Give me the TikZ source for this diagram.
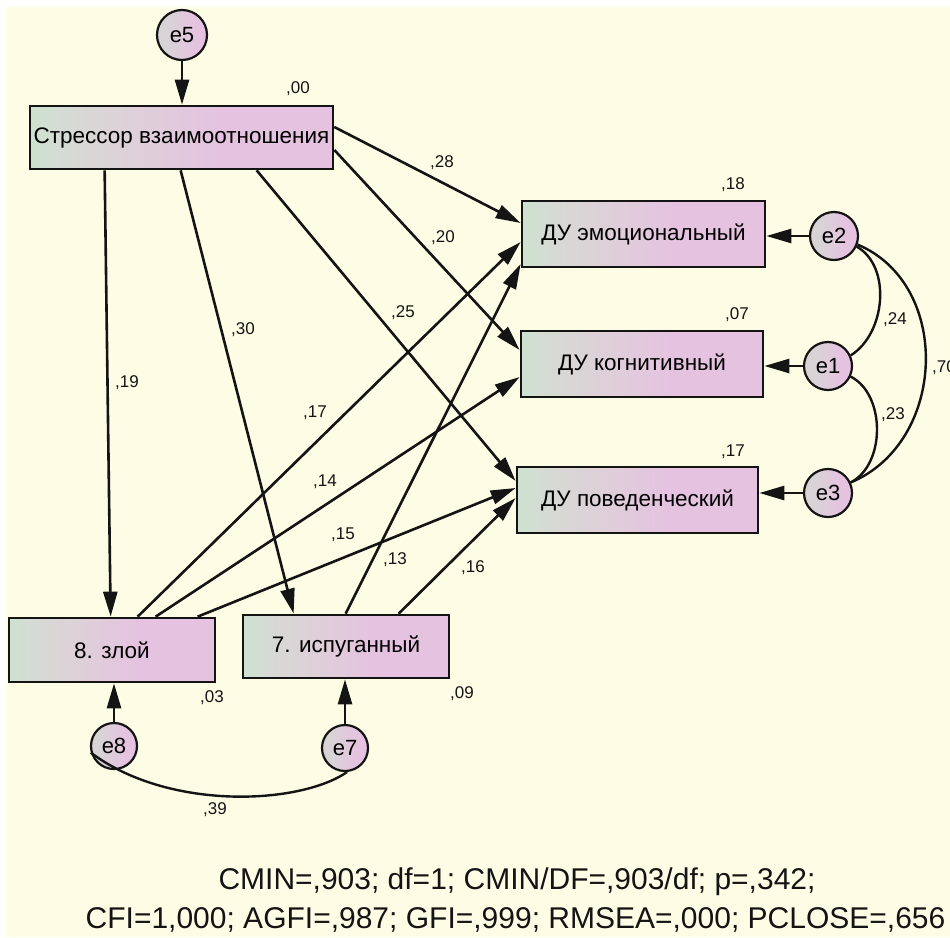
\documentclass[tikz,border=0pt]{standalone}
\usepackage{fontspec}
\setmainfont{Liberation Sans}
\usetikzlibrary{arrows.meta,calc}
\definecolor{bg}{RGB}{253,253,230}
\definecolor{bxL}{RGB}{205,226,208}
\definecolor{bxLM}{RGB}{214,218,212}
\definecolor{bxM}{RGB}{222,208,216}
\definecolor{bxR}{RGB}{229,195,224}
\definecolor{ciL}{RGB}{216,212,214}
\definecolor{ciR}{RGB}{229,195,224}
\definecolor{ink}{RGB}{20,20,20}
\pgfdeclarehorizontalshading{boxshade}{100bp}{color(0bp)=(bxL); color(25bp)=(bxL); color(31bp)=(bxLM); color(42bp)=(bxM); color(56bp)=(bxR); color(100bp)=(bxR)}
\pgfdeclarehorizontalshading{circshade}{100bp}{color(0bp)=(ciL); color(35bp)=(ciL); color(62bp)=(ciR); color(100bp)=(ciR)}
\tikzset{
  obsbox/.style={draw=ink, line width=2.7pt, shading=boxshade, inner sep=0pt,
    font=\fontsize{22.5}{25}\selectfont},
  errc/.style={circle, draw=ink, line width=2.2pt, shading=circshade, minimum size=48pt,
    inner sep=0pt, font=\fontsize{22}{25}\selectfont},
  arr/.style={line width=2.6pt, draw=ink, -{Triangle[length=25pt,width=14pt]}},
  cov/.style={line width=2.4pt, draw=ink},
  coef/.style={font=\fontsize{17}{19}\selectfont, inner sep=0pt, text=ink},
  fitstat/.style={font=\fontsize{30}{34}\selectfont, inner sep=0pt, anchor=base, text=ink}
}
\begin{document}
\begin{tikzpicture}[x=1pt,y=-1pt]
\useasboundingbox (0,0) rectangle (950,937);
\fill[white] (0,0) rectangle (950,937);
\fill[bg] (6,7) rectangle (950,937);

% observed variables
\node[obsbox, minimum width=303pt, minimum height=63pt] (S) at (181.5,137.5) {Стрессор взаимоотношения};
\node[obsbox, minimum width=243pt, minimum height=66pt] (E) at (643.5,234) {ДУ эмоциональный};
\node[obsbox, minimum width=242pt, minimum height=66pt] (K) at (642,364) {ДУ когнитивный};
\node[obsbox, minimum width=241pt, minimum height=66pt] (P) at (637.5,500) {ДУ поведенческий};
\node[obsbox, minimum width=206pt, minimum height=64pt] (Z) at (112,650) {8. злой};
\node[obsbox, minimum width=206pt, minimum height=63pt] (I) at (346,646.5) {7. испуганный};

% error terms
\node[errc, minimum size=50pt] (e5) at (182,35) {e5};
\node[errc] (e2) at (834,236) {e2};
\node[errc] (e1) at (828,366) {e1};
\node[errc] (e3) at (828,493) {e3};
\node[errc, minimum size=46pt] (e8) at (114,746) {e8};
\node[errc, minimum size=46pt] (e7) at (345,748) {e7};

% error paths
\draw[arr] (e5.south) -- (e5.south |- S.north);
\draw[arr] (e2.west) -- (E.east |- e2.west);
\draw[arr] (e1.west) -- (K.east |- e1.west);
\draw[arr] (e3.west) -- (P.east |- e3.west);
\draw[arr] (e8.north) -- (e8.north |- Z.south);
\draw[arr] (e7.north) -- (e7.north |- I.south);

% structural paths
\draw[arr] ([xshift=76pt]S.south west) -- ([xshift=103pt]Z.north west);
\draw[arr] ([xshift=152pt]S.south west) -- ([xshift=52pt]I.north west);
\draw[arr] ([xshift=228pt]S.south west) -- ([yshift=19pt]P.west);
\draw[arr] ([yshift=-12.5pt]S.east) -- ([yshift=14pt]K.west);
\draw[arr] ([yshift=10.5pt]S.east) -- ([yshift=11pt]E.west);
\draw[arr] ([xshift=130pt]Z.north west) -- ([yshift=-8pt]E.west);
\draw[arr] ([xshift=148pt]Z.north west) -- ([yshift=-13pt]K.west);
\draw[arr] ([xshift=190pt]Z.north west) -- ([yshift=12pt]P.west);
\draw[arr] ([xshift=104pt]I.north west) -- ([yshift=-30pt]E.west);
\draw[arr] ([xshift=157pt]I.north west) -- ([yshift=2pt]P.west);

% covariances
\draw[cov] (e2.-25) .. controls +(35,20) and +(35,-22) .. (e1.25);
\draw[cov] (e1.-25) .. controls +(35,18) and +(35,-18) .. (e3.25);
\draw[cov] (e2.-20) .. controls +(95,40) and +(96,-40) .. (e3.25);
\draw[cov] (e8.196) .. controls +(77,58) and +(-48,33) .. (e7.-85);

% coefficients
\node[coef] (c00) at (298,89) {,00};
\node[coef] (c28) at (442,163) {,28};
\node[coef] (c20) at (443,238) {,20};
\node[coef] (c25) at (403,313) {,25};
\node[coef] (c30) at (243,330) {,30};
\node[coef] (c19) at (127,383) {,19};
\node[coef] (c17a) at (315,413) {,17};
\node[coef] (c14) at (325,482) {,14};
\node[coef] (c15) at (343,535) {,15};
\node[coef] (c13) at (395,560) {,13};
\node[coef] (c16) at (473,568) {,16};
\node[coef] (c18) at (733,185) {,18};
\node[coef] (c07) at (737,315) {,07};
\node[coef] (c17b) at (733,452) {,17};
\node[coef] (c24) at (895,320) {,24};
\node[coef] (c23) at (893,415) {,23};
\node[coef] (c70) at (944,368) {,70};
\node[coef] (c03) at (212,698) {,03};
\node[coef] (c09) at (462,694) {,09};
\node[coef] (c39) at (215,810) {,39};

% fit statistics
\node[fitstat] (fit1) at (517,889) {CMIN=,903; df=1; CMIN/DF=,903/df; p=,342;};
\node[fitstat] (fit2) at (515.5,928) {CFI=1,000; AGFI=,987; GFI=,999; RMSEA=,000; PCLOSE=,656};
\end{tikzpicture}
\end{document}
